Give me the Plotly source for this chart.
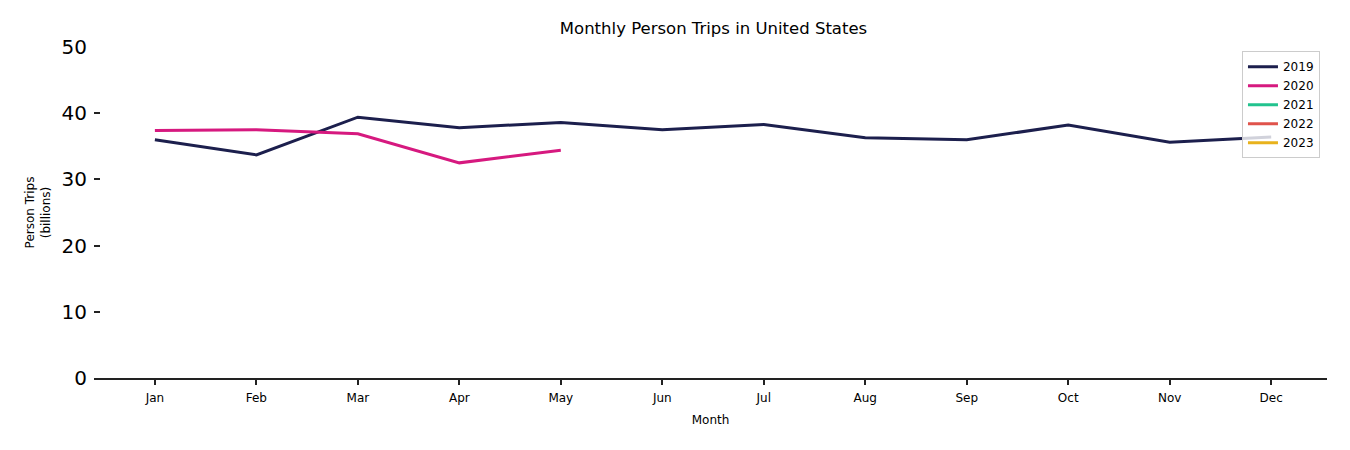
import plotly.graph_objects as go

months = ["Jan", "Feb", "Mar", "Apr", "May", "Jun", "Jul", "Aug", "Sep", "Oct", "Nov", "Dec"]
trips_2019 = [36.0, 33.7, 39.4, 37.8, 38.6, 37.5, 38.3, 36.3, 36.0, 38.2, 35.6, 36.4]
trips_2020 = [37.4, 37.5, 36.9, 32.5, 34.4]
trips_2021 = []
trips_2022 = []
trips_2023 = []
years = ["2019", "2020", "2021", "2022", "2023"]
colors = ["#1c1f4d", "#d6197f", "#22c38e", "#e0534b", "#e8b21c"]
series = [trips_2019, trips_2020, trips_2021, trips_2022, trips_2023]

FONT = "DejaVu Sans"
fig = go.Figure()
for name, vals, col in zip(years, series, colors):
    yv = list(vals) + [None] * (len(months) - len(vals))
    fig.add_trace(go.Scatter(
        x=months, y=yv, mode="lines", name=name, showlegend=True,
        line=dict(color=col, width=3),
    ))

fig.update_layout(
    width=1350, height=450,
    margin=dict(l=86, r=31, t=38.5, b=80),
    paper_bgcolor="white", plot_bgcolor="white",
    font=dict(family=FONT, color="#000000"),
    title=dict(text="Monthly Person Trips in United States", x=0.5226, xanchor="center",
               y=0.955, yanchor="middle", font=dict(size=16.5, family=FONT, color="#000")),
    showlegend=True,
    legend=dict(x=0.9943, y=0.987, xanchor="right", yanchor="top",
                bgcolor="rgba(255,255,255,0.8)", bordercolor="#cccccc", borderwidth=1,
                font=dict(size=12, family=FONT), itemwidth=30, tracegroupgap=0),
    xaxis=dict(
        type="category", categoryorder="array", categoryarray=months,
        range=[-0.6, 11.55], showgrid=False, zeroline=False,
        showline=True, linecolor="#222222", linewidth=1.5,
        ticks="outside", ticklen=5, tickwidth=1.5, tickcolor="#222222",
        tickfont=dict(size=12, family=FONT), ticklabelstandoff=3,
        title=dict(text="Month", font=dict(size=12, family=FONT), standoff=11),
    ),
    yaxis=dict(
        range=[0, 50], tickvals=[0, 10, 20, 30, 40, 50], showgrid=False, zeroline=False,
        showline=False, ticks="inside", ticklen=6, tickwidth=1.5, tickcolor="#222222",
        tickfont=dict(size=20, family=FONT), ticklabelstandoff=6,
        title=dict(text="Person Trips<br>(billions)", font=dict(size=12, family=FONT), standoff=8),
    ),
)

fig.write_html("out.html")
